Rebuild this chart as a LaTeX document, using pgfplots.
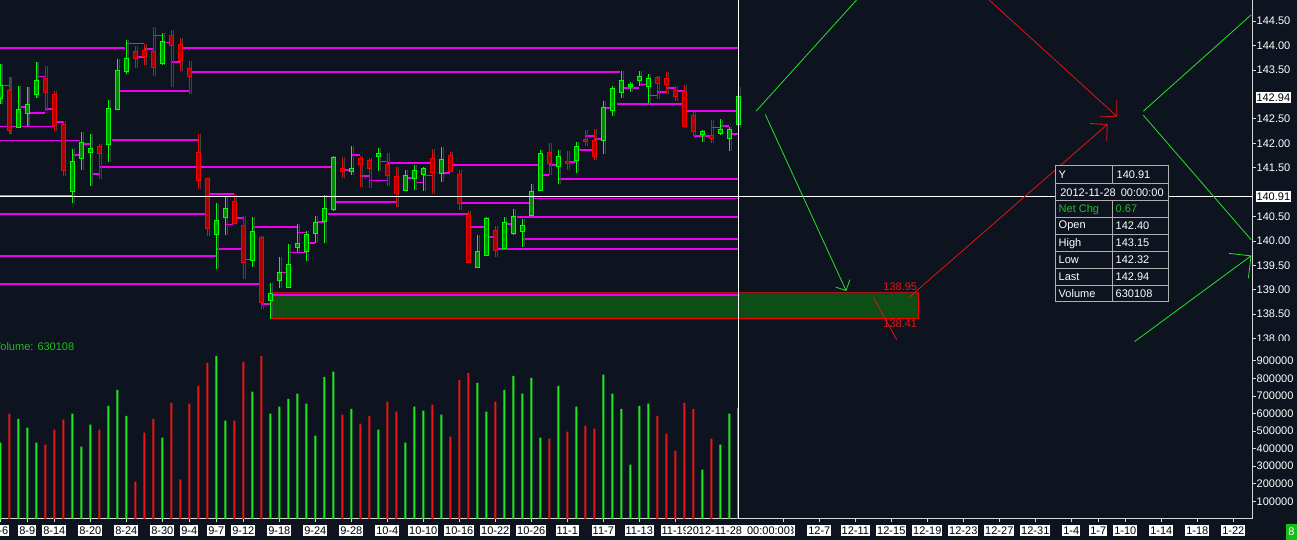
\documentclass[border=0pt]{standalone}
\usepackage{fontspec}
\setmainfont{Liberation Sans}
\usepackage{pgfplots}
\pgfplotsset{compat=1.18}
\definecolor{bg}{RGB}{14,20,31}
\definecolor{mag}{RGB}{240,0,240}
\definecolor{cg}{RGB}{0,255,0}
\definecolor{cgf}{RGB}{0,140,0}
\definecolor{cr}{RGB}{255,0,0}
\definecolor{crf}{RGB}{170,0,0}
\definecolor{vg}{RGB}{30,235,30}
\definecolor{vr}{RGB}{235,20,20}
\definecolor{vp}{RGB}{170,60,170}
\definecolor{axg}{RGB}{215,215,215}
\definecolor{zoneg}{RGB}{12,78,22}
\definecolor{ared}{RGB}{225,20,20}
\definecolor{dred}{RGB}{170,20,20}
\definecolor{agreen}{RGB}{40,225,40}
\definecolor{boxg}{RGB}{175,175,175}
\definecolor{txtg}{RGB}{30,190,30}
\definecolor{eightg}{RGB}{20,190,20}
\definecolor{prof}{RGB}{62,66,74}
\newcommand\fs{\fontsize{11}{13}\selectfont}
% candle: i, open, high, low, close
\newcommand\gC[5]{%
\addplot[prof, line width=1.6pt, xshift=2pt] coordinates {(#1,#4) (#1,#3)};
\addplot[cg, line width=1pt] coordinates {(#1,#4) (#1,#3)};
\addplot[cg, line width=5.5pt, shorten <=-1pt, shorten >=-1pt] coordinates {(#1,#2) (#1,#5)};
\addplot[cgf, line width=3.5pt] coordinates {(#1,#2) (#1,#5)};}
\newcommand\rC[5]{%
\addplot[prof, line width=1.6pt, xshift=2pt] coordinates {(#1,#4) (#1,#3)};
\addplot[cr, line width=1pt] coordinates {(#1,#4) (#1,#3)};
\addplot[cr, line width=5.5pt, shorten <=-1pt, shorten >=-1pt] coordinates {(#1,#2) (#1,#5)};
\addplot[crf, line width=3.5pt] coordinates {(#1,#2) (#1,#5)};}
\pgfplotsset{/pgf/number format/assume math mode=true}
\begin{document}
\begin{tikzpicture}
\useasboundingbox (0pt,0pt) rectangle (1297pt,540pt);
\fill[bg] (0pt,0pt) rectangle (1297pt,540pt);
% ---------------- price panel ----------------
\begin{axis}[
  at={(0pt,195pt)}, anchor=south west, scale only axis,
  width=1252pt, height=345pt,
  xmin=-0.0333, xmax=139.078, ymin=137.869, ymax=144.934,
  axis x line=none, axis y line*=right,
  y axis line style={draw=axg, line width=0.9pt},
  tick align=outside, major tick length=3.5pt,
  ytick style={draw=axg, line width=0.8pt},
  ytick={138,138.5,139,139.5,140,140.5,141.5,142,142.5,143.5,144,144.5},
  yticklabels={138.00,138.50,139.00,139.50,140.00,140.50,141.50,142.00,142.50,143.50,144.00,144.50},
  yticklabel style={text=white, font=\fs, inner xsep=1pt},
  unbounded coords=jump,
]
% zone
\addplot[fill=zoneg, draw=none] coordinates {(30,138.41) (102,138.41) (102,138.95) (30,138.95)};
\addplot[dred, line width=0.9pt] coordinates {(30,138.95) (102,138.95)};
\addplot[cr, line width=1pt] coordinates {(102,138.95) (102,138.41) (30,138.41)};
\addplot[cg, line width=1pt] coordinates {(30,138.41) (30,138.95)};
% magenta levels
\addplot[mag, line width=1.6pt] coordinates {
(-1,143.95) (13.9,143.95) (13.9,nan)
(20.2,143.95) (82,143.95) (82,nan)
(21.3,143.46) (68.9,143.46) (68.9,nan)
(13.1,143.07) (21,143.07) (21,nan)
(-1,142.34) (6,142.34) (6,nan)
(-1,142.06) (8.9,142.06) (8.9,nan)
(12.4,142.07) (22,142.07) (22,nan)
(11.1,141.52) (37,141.52) (37,nan)
(37,140.80) (44,140.80) (44,nan)
(59,140.87) (82,140.87) (82,nan)
(-1,140.55) (22.7,140.55) (22.7,nan)
(36.4,140.55) (52,140.55) (52,nan)
(57.4,140.49) (82,140.49) (82,nan)
(28,140.28) (33,140.28) (33,nan)
(-1,139.69) (24,139.69) (24,nan)
(-1,139.12) (28.9,139.12) (28.9,nan)
(30.2,138.89) (82,138.89) (82,nan)
(58.1,140.04) (82,140.04) (82,nan)
(55.2,139.83) (82,139.83) (82,nan)
(62,141.27) (82,141.27) (82,nan)
(50.3,141.55) (59.7,141.55) (59.7,nan)
(68.5,142.80) (75.9,142.80) (75.9,nan)
(76.3,142.66) (82,142.66) (82,nan)
(0,143.18) (1.04,143.18) (1.04,nan)
(4.1,143.37) (5.0,143.37) (5.0,nan)
(2.1,142.74) (3.0,142.74) (3.0,nan)
(3.1,142.62) (5.0,142.62) (5.0,nan)
(5.1,142.70) (5.9,142.70) (5.9,nan)
(6.1,142.44) (7.0,142.44) (7.0,nan)
(8.1,141.76) (9.1,141.76) (9.1,nan)
(9.1,141.99) (10.0,141.99) (10.0,nan)
(10.2,141.37) (11.0,141.37) (11.0,nan)
(14.1,144.04) (16.0,144.04) (16.0,nan)
(15.1,143.77) (16.0,143.77) (16.0,nan)
(16.1,143.93) (17.0,143.93) (17.0,nan)
(17.1,144.21) (18.0,144.21) (18.0,nan)
(18.1,144.06) (19.0,144.06) (19.0,nan)
(19.1,143.67) (20.0,143.67) (20.0,nan)
(23.1,140.96) (26.0,140.96) (26.0,nan)
(24.1,139.84) (26.7,139.84) (26.7,nan)
(26.2,140.47) (27.0,140.47) (27.0,nan)
(25.1,140.34) (25.9,140.34) (25.9,nan)
(27.3,139.62) (28.0,139.62) (28.0,nan)
(29.1,138.71) (30.0,138.71) (30.0,nan)
(31.2,139.35) (32.0,139.35) (32.0,nan)
(32.1,139.76) (34.0,139.76) (34.0,nan)
(33.1,140.17) (34.0,140.17) (34.0,nan)
(34.1,139.96) (35.0,139.96) (35.0,nan)
(35.2,140.39) (36.0,140.39) (36.0,nan)
(38.1,141.45) (39.0,141.45) (39.0,nan)
(39.1,141.76) (40.0,141.76) (40.0,nan)
(40.1,141.33) (41.0,141.33) (41.0,nan)
(41.1,141.24) (43.0,141.24) (43.0,nan)
(42.2,141.63) (43.0,141.63) (43.0,nan)
(43.1,141.59) (48.1,141.59) (48.1,nan)
(45.1,141.29) (46.0,141.29) (46.0,nan)
(46.2,141.20) (47.0,141.20) (47.0,nan)
(47.1,141.34) (48.0,141.34) (48.0,nan)
(49.1,141.39) (50.0,141.39) (50.0,nan)
(51.3,140.78) (59.0,140.78) (59.0,nan)
(52.3,140.29) (53.9,140.29) (53.9,nan)
(54.2,140.08) (55.0,140.08) (55.0,nan)
(56.2,140.35) (57.0,140.35) (57.0,nan)
(60.1,141.35) (61.0,141.35) (61.0,nan)
(61.1,141.56) (62.0,141.56) (62.0,nan)
(63.1,141.62) (64.0,141.62) (64.0,nan)
(64.2,141.86) (65.9,141.86) (65.9,nan)
(65.1,142.15) (66.0,142.15) (66.0,nan)
(66.1,142.09) (67.0,142.09) (67.0,nan)
(67.1,142.72) (68.0,142.72) (68.0,nan)
(69.1,143.13) (71.0,143.13) (71.0,nan)
(71.1,143.20) (72.0,143.20) (72.0,nan)
(72.1,142.98) (73.0,142.98) (73.0,nan)
(73.1,143.05) (74.0,143.05) (74.0,nan)
(74.1,143.13) (75.0,143.13) (75.0,nan)
(75.1,143.07) (76.0,143.07) (76.0,nan)
(77.1,142.15) (79.0,142.15) (79.0,nan)
(79.1,142.32) (80.0,142.32) (80.0,nan)
(80.1,142.35) (81.0,142.35) (81.0,nan)
(81.1,142.19) (82.0,142.19)
};
\addplot[agreen, line width=1pt] coordinates {(-1,140.93) (8,140.93)};
% candles: i, open, high, low, close
\gC{0}{142.93}{143.63}{142.81}{143.17}
\rC{1}{143.07}{143.35}{142.18}{142.28}
\gC{2}{142.34}{143.17}{142.33}{142.69}
\gC{3}{142.61}{143.15}{142.35}{142.79}
\gC{4}{143.01}{143.66}{142.93}{143.27}
\rC{5}{143.31}{143.58}{142.66}{143.05}
\rC{6}{142.98}{143.07}{142.26}{142.38}
\rC{7}{142.37}{142.45}{141.33}{141.46}
\gC{8}{141.03}{141.89}{140.77}{141.61}
\gC{9}{141.70}{142.23}{141.45}{142.00}
\gC{10}{141.82}{142.18}{141.12}{141.88}
\rC{11}{141.93}{141.99}{141.27}{141.80}
\gC{12}{141.99}{142.88}{141.61}{142.71}
\gC{13}{142.70}{143.72}{142.68}{143.49}
\gC{14}{143.49}{144.12}{143.41}{143.72}
\rC{15}{143.86}{143.99}{143.54}{143.75}
\rC{16}{143.89}{144.04}{143.60}{143.79}
\rC{17}{143.86}{144.38}{143.37}{143.56}
\gC{18}{143.65}{144.25}{143.61}{144.07}
\rC{19}{144.19}{144.32}{143.15}{144.02}
\rC{20}{144.02}{144.15}{143.48}{143.71}
\rC{21}{143.53}{143.69}{143.01}{143.37}
\rC{22}{141.81}{142.18}{141.07}{141.24}
\rC{23}{141.26}{141.28}{140.10}{140.27}
\gC{24}{140.15}{140.77}{139.43}{140.40}
\gC{25}{140.49}{140.92}{140.13}{140.66}
\rC{26}{140.79}{140.97}{140.34}{140.36}
\rC{27}{140.30}{140.51}{139.23}{139.57}
\gC{28}{139.61}{140.49}{139.47}{140.19}
\rC{29}{140.07}{140.10}{138.60}{138.75}
\gC{30}{138.79}{139.14}{138.42}{138.92}
\gC{31}{139.20}{139.67}{139.03}{139.35}
\gC{32}{139.06}{139.94}{139.04}{139.50}
\gC{33}{139.88}{140.35}{139.78}{139.93}
\gC{34}{139.80}{140.21}{139.59}{140.13}
\gC{35}{140.17}{140.51}{139.95}{140.36}
\gC{36}{140.40}{140.95}{139.95}{140.66}
\gC{37}{140.66}{141.73}{140.61}{141.69}
\rC{38}{141.48}{141.72}{141.29}{141.44}
\gC{39}{141.44}{141.95}{141.36}{141.47}
\rC{40}{141.67}{141.74}{141.11}{141.58}
\rC{41}{141.63}{141.69}{141.09}{141.50}
\gC{42}{141.73}{141.91}{141.43}{141.77}
\rC{43}{141.55}{141.80}{141.13}{141.34}
\rC{44}{141.31}{141.52}{140.70}{140.98}
\gC{45}{141.05}{141.46}{141.04}{141.33}
\gC{46}{141.28}{141.55}{141.04}{141.44}
\gC{47}{141.37}{141.51}{141.02}{141.47}
\rC{48}{141.67}{141.89}{140.97}{141.41}
\gC{49}{141.39}{141.92}{141.21}{141.65}
\rC{50}{141.73}{141.83}{141.41}{141.44}
\rC{51}{141.36}{141.46}{140.63}{140.77}
\rC{52}{140.54}{140.61}{139.55}{139.57}
\gC{53}{139.47}{140.13}{139.45}{139.77}
\gC{54}{139.72}{140.49}{139.72}{140.45}
\rC{55}{140.21}{140.30}{139.67}{139.82}
\gC{56}{139.86}{140.49}{139.86}{140.36}
\gC{57}{140.17}{140.66}{140.13}{140.50}
\gC{58}{140.20}{140.45}{139.87}{140.30}
\gC{59}{140.54}{141.16}{140.51}{141.01}
\gC{60}{141.05}{141.87}{141.03}{141.77}
\rC{61}{141.81}{142.00}{141.35}{141.59}
\gC{62}{141.54}{141.86}{141.17}{141.72}
\rC{63}{141.61}{141.84}{141.46}{141.59}
\gC{64}{141.66}{142.03}{141.39}{141.93}
\rC{65}{142.06}{142.27}{141.94}{142.04}
\rC{66}{142.04}{142.29}{141.65}{141.73}
\gC{67}{142.06}{142.86}{141.77}{142.73}
\gC{68}{142.69}{143.17}{142.56}{143.12}
\gC{69}{143.04}{143.48}{142.93}{143.27}
\gC{70}{143.18}{143.26}{143.04}{143.20}
\gC{71}{143.30}{143.48}{143.17}{143.35}
\gC{72}{143.18}{143.41}{142.83}{143.31}
\rC{73}{143.33}{143.37}{142.91}{143.24}
\rC{74}{143.31}{143.46}{143.00}{143.22}
\rC{75}{143.08}{143.17}{142.86}{142.96}
\rC{76}{143.04}{143.20}{142.32}{142.36}
\rC{77}{142.55}{142.64}{142.15}{142.26}
\gC{78}{142.18}{142.27}{142.03}{142.23}
\rC{79}{142.15}{142.48}{142.01}{142.10}
\gC{80}{142.22}{142.49}{142.16}{142.27}
\gC{81}{142.10}{142.33}{141.84}{142.27}
\gC{82}{142.40}{143.15}{142.32}{142.94}
% crosshair
\addplot[white, line width=0.9pt] coordinates {(-1,140.91) (140,140.91)};
\addplot[white, line width=0.9pt] coordinates {(82.04,137) (82.04,146)};
% drawn arrows
\addplot[agreen, line width=0.8pt] coordinates {
(83.97,142.657) (95.22,144.95) (95.22,nan)
(85.0,142.589) (93.97,138.985) (93.97,nan)
(92.82,139.053) (93.97,138.985) (94.41,139.21) (94.41,nan)
(127.0,142.657) (138.97,144.627) (138.97,nan)
(127.0,142.575) (138.97,140.027) (138.97,nan)
(126.03,137.939) (138.97,139.694) (138.97,nan)
(136.52,139.745) (138.97,139.694) (138.67,139.235)
};
\addplot[ared, line width=0.8pt] coordinates {
(101.0,138.848) (123.0,142.384) (123.0,nan)
(121.08,142.405) (123.0,142.384) (122.93,142.043) (122.93,nan)
(109.78,144.95) (124.04,142.554) (124.04,nan)
(122.19,142.54) (124.04,142.554) (124.04,142.882) (124.04,nan)
(97.0,138.848) (99.6,137.98)
};
\node[anchor=south east, text=ared, font=\fs, inner sep=1pt] at (axis cs:102,138.96) {138.95};
\node[anchor=north east, text=ared, font=\fs, inner sep=1pt] at (axis cs:102,138.40) {138.41};
\coordinate (pA) at (axis cs:139.078,142.94);
\coordinate (pB) at (axis cs:139.078,140.91);
\end{axis}
% ---------------- volume panel ----------------
\begin{axis}[
  at={(0pt,21.2pt)}, anchor=south west, scale only axis,
  width=1252pt, height=173.8pt,
  xmin=-0.0333, xmax=139.078, ymin=0, ymax=990300,
  axis x line*=bottom, axis y line*=right,
  axis line style={draw=axg, line width=0.9pt},
  tick align=outside, major tick length=3.5pt,
  tick style={draw=axg, line width=0.8pt},
  scaled y ticks=false,
  ytick={100000,200000,300000,400000,500000,600000,700000,800000,900000},
  yticklabels={100000,200000,300000,400000,500000,600000,700000,800000,900000},
  yticklabel style={text=white, font=\fs, inner xsep=1pt},
  xtick={0,3,6,10,14,18,21,24,27,31,35,39,43,47,51,55,59,63,67,71,75,87,91,95,99,103,107,111,115,119,122,125,129,133,137},
  xticklabels={8-6,8-9,8-14,8-20,8-24,8-30,9-4,9-7,9-12,9-18,9-24,9-28,10-4,10-10,10-16,10-22,10-26,11-1,11-7,11-13,11-19,12-3,12-7,12-11,12-15,12-19,12-23,12-27,12-31,1-4,1-7,1-10,1-14,1-18,1-22},
  xticklabel style={fill=white, text=black, font=\fs, inner xsep=1pt, inner ysep=1.5pt, yshift=-2.5pt},
]
\addplot[ybar, bar width=2pt, bar shift=0pt, fill=vg, draw=none] coordinates {
(0,434000) (2,570000) (3,519000) (4,434000) (8,599000) (9,411000) (10,536000) (12,644000) (13,735000) (14,587000) (18,462000) (24,929000) (25,559000) (28,724000) (30,599000) (31,639000) (32,684000) (33,713000) (34,656000) (35,474000) (36,809000) (37,838000) (39,627000) (42,508000) (45,434000) (46,639000) (47,616000) (49,593000) (53,775000) (54,610000) (56,735000) (57,815000) (58,713000) (59,803000) (60,462000) (62,758000) (64,639000) (67,821000) (68,713000) (69,627000) (70,309000) (71,644000) (72,656000) (78,280000) (80,423000) (81,599000)
};
\addplot[ybar, bar width=2pt, bar shift=0pt, fill=vr, draw=none] coordinates {
(1,599000) (5,423000) (6,508000) (7,565000) (11,508000) (15,212000) (16,491000) (17,570000) (19,661000) (20,224000) (21,656000) (22,758000) (23,889000) (26,559000) (27,894000) (29,929000) (38,593000) (40,542000) (41,587000) (43,667000) (44,610000) (48,650000) (50,468000) (51,792000) (52,832000) (55,667000) (61,457000) (63,496000) (65,531000) (66,514000) (73,587000) (74,485000) (75,388000) (76,661000) (77,627000) (79,457000)
};
\addplot[ybar, bar width=2pt, bar shift=0pt, fill=vp, draw=none] coordinates {(82,630108)};
\addplot[white, line width=0.9pt] coordinates {(82.04,0) (82.04,1000000)};
\coordinate (dH) at (axis cs:82,0);
\end{axis}
% ---------------- overlays ----------------
\fill[bg] (1253.5pt,189pt) rectangle (1297pt,199pt);
\node[anchor=west, fill=white, text=black, font=\fs, inner xsep=0.5pt, inner ysep=1.5pt] at ([xshift=3.8pt]pA) {142.94};
\node[anchor=west, fill=white, text=black, font=\fs, inner xsep=0.5pt, inner ysep=1.5pt] at ([xshift=3.8pt]pB) {140.91};
\node[anchor=north, fill=white, text=black, font=\fs, inner xsep=1pt, inner ysep=1.5pt] at ([yshift=-6pt]dH) {2012-11-28\hspace{5pt}00:00:00};
\node[anchor=west, text=txtg, font=\fs, inner sep=0pt] at (-6.5pt,193pt) {Volume: 630108};
\node[anchor=south east, fill=eightg, text=white, font=\fs, minimum width=11pt, minimum height=16pt, inner sep=0pt] at (1297pt,0pt) {8};
% info box
\fill[bg] (1055.7pt,238.3pt) rectangle (1168.3pt,374pt);
\draw[boxg, line width=1pt] (1055.7pt,238.3pt) rectangle (1168.3pt,374pt);
\foreach \yy in {356,339.3,322.3,305.3,288.3,271.3,254.7} {\draw[boxg, line width=1pt] (1055.7pt,\yy pt) -- (1168.3pt,\yy pt);}
\draw[boxg, line width=1pt] (1112.7pt,374pt) -- (1112.7pt,356pt);
\draw[boxg, line width=1pt] (1112.7pt,339.3pt) -- (1112.7pt,238.3pt);
\node[anchor=west, text=white, font=\fs, inner sep=0pt] at (1058.5pt,365pt) {Y};
\node[anchor=west, text=white, font=\fs, inner sep=0pt] at (1116.5pt,365pt) {140.91};
\node[text=white, font=\fs, inner sep=0pt] at (1112pt,347.6pt) {2012-11-28\hspace{5pt}00:00:00};
\node[anchor=west, text=txtg, font=\fs, inner sep=0pt] at (1058.5pt,330.8pt) {Net Chg};
\node[anchor=west, text=txtg, font=\fs, inner sep=0pt] at (1115.5pt,330.8pt) {0.67};
\node[anchor=west, text=white, font=\fs, inner sep=0pt] at (1058.5pt,313.8pt) {Open};
\node[anchor=west, text=white, font=\fs, inner sep=0pt] at (1115.5pt,313.8pt) {142.40};
\node[anchor=west, text=white, font=\fs, inner sep=0pt] at (1058.5pt,296.8pt) {High};
\node[anchor=west, text=white, font=\fs, inner sep=0pt] at (1115.5pt,296.8pt) {143.15};
\node[anchor=west, text=white, font=\fs, inner sep=0pt] at (1058.5pt,279.8pt) {Low};
\node[anchor=west, text=white, font=\fs, inner sep=0pt] at (1115.5pt,279.8pt) {142.32};
\node[anchor=west, text=white, font=\fs, inner sep=0pt] at (1058.5pt,263pt) {Last};
\node[anchor=west, text=white, font=\fs, inner sep=0pt] at (1115.5pt,263pt) {142.94};
\node[anchor=west, text=white, font=\fs, inner sep=0pt] at (1058.5pt,246.5pt) {Volume};
\node[anchor=west, text=white, font=\fs, inner sep=0pt] at (1115.5pt,246.5pt) {630108};
\end{tikzpicture}
\end{document}
